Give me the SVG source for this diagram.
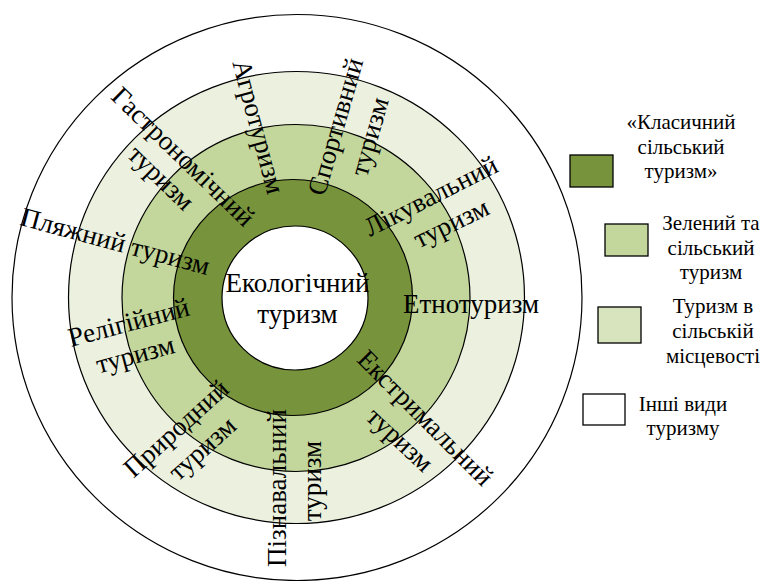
<svg xmlns="http://www.w3.org/2000/svg" width="765" height="581" viewBox="0 0 765 581">
<style>
.ring{stroke:#000;stroke-width:1.2}
.t{font-family:"Liberation Serif","Times New Roman",serif;font-size:27px;fill:#000;text-anchor:middle}
.lg{font-family:"Liberation Serif","Times New Roman",serif;font-size:21px;fill:#000;text-anchor:middle}
.box{stroke:#000;stroke-width:1.3}
</style>
<rect width="765" height="581" fill="#fff"/>
<g id="rings">
<ellipse id="ring-other" class="ring" cx="297" cy="297.5" rx="285" ry="283" fill="#fff"/>
<ellipse id="ring-rural-area" class="ring" cx="296.5" cy="297.5" rx="228" ry="226" fill="#EBF1DE"/>
<ellipse id="ring-green" class="ring" cx="296" cy="298" rx="174" ry="173.5" fill="#C3D69B"/>
<ellipse id="ring-classic" class="ring" cx="293" cy="297.5" rx="119.5" ry="118" fill="#77933C"/>
<ellipse id="ring-core" class="ring" cx="295" cy="298" rx="73" ry="72" fill="#fff"/>
</g>
<g id="labels">
<g id="eco"><text class="t" x="297.5" y="292">Екологічний</text><text class="t" x="297.5" y="323">туризм</text></g>
<g id="agro"><text class="t" transform="translate(250,129) rotate(75)">Агротуризм</text></g>
<g id="sport"><text class="t" transform="translate(344,129) rotate(-74)">Спортивний</text><text class="t" transform="translate(378,139) rotate(-74)">туризм</text></g>
<g id="gastro"><text class="t" transform="translate(177,163) rotate(44)">Гастрономічний</text><text class="t" transform="translate(155,184) rotate(44)">туризм</text></g>
<g id="beach"><text class="t" transform="translate(113,250) rotate(15)">Пляжний туризм</text></g>
<g id="relig"><text class="t" transform="translate(131,331) rotate(-15)">Релігійний</text><text class="t" transform="translate(137.5,363) rotate(-15)">туризм</text></g>
<g id="nature"><text class="t" transform="translate(182,435) rotate(-42)">Природний</text><text class="t" transform="translate(208,455) rotate(-42)">туризм</text></g>
<g id="cogn"><text class="t" transform="translate(286,488) rotate(-90)">Пізнавальний</text><text class="t" transform="translate(321,481) rotate(-90)">туризм</text></g>
<g id="health"><text class="t" transform="translate(435,204) rotate(-27)">Лікувальний</text><text class="t" transform="translate(455,231) rotate(-26)">туризм</text></g>
<g id="ethno"><text class="t" x="471" y="313">Етнотуризм</text></g>
<g id="extreme"><text class="t" transform="translate(419,424) rotate(45)">Екстримальний</text><text class="t" transform="translate(394,446) rotate(43)">туризм</text></g>
</g>
<g id="legend">
<g id="legend-classic"><rect class="box" x="570" y="155" width="43" height="32" fill="#77933C"/><text class="lg" x="681" y="129">«Класичний</text><text class="lg" x="681" y="154">сільський</text><text class="lg" x="681" y="178">туризм»</text></g>
<g id="legend-green"><rect class="box" x="605" y="224" width="43" height="32" fill="#C3D69B"/><text class="lg" x="711" y="230">Зелений та</text><text class="lg" x="711" y="255">сільський</text><text class="lg" x="711" y="279">туризм</text></g>
<g id="legend-rural"><rect class="box" x="598" y="307" width="43" height="36" fill="#D7E4BD"/><text class="lg" x="713" y="313">Туризм в</text><text class="lg" x="713" y="338">сільській</text><text class="lg" x="713" y="363">місцевості</text></g>
<g id="legend-other"><rect class="box" x="583" y="394" width="42" height="31" fill="#fff"/><text class="lg" x="683" y="411">Інші види</text><text class="lg" x="683" y="435">туризму</text></g>
</g>
</svg>
